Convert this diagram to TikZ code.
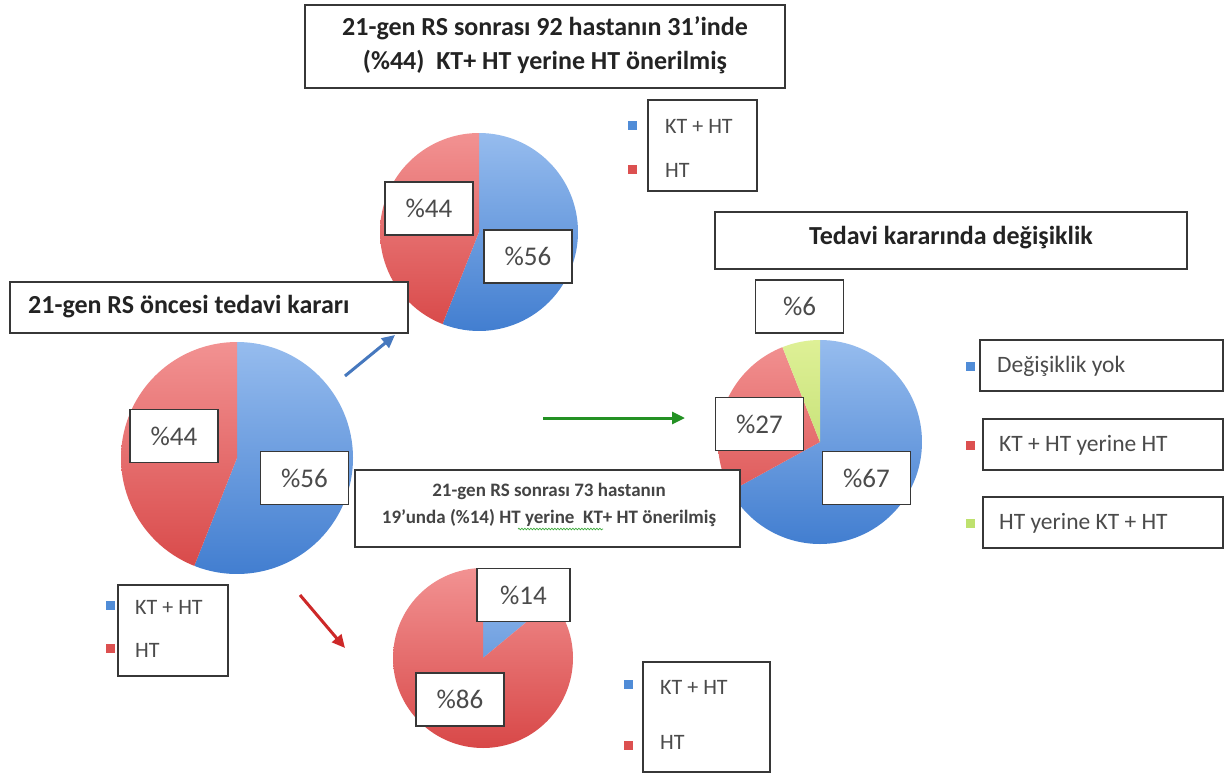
\documentclass[tikz,border=0pt]{standalone}
\usepackage{fontspec}
\setmainfont{Carlito}
\usetikzlibrary{arrows.meta,calc,decorations.pathmorphing}
\definecolor{bluelt}{RGB}{150,188,238}
\definecolor{bluedk}{RGB}{66,126,208}
\definecolor{redlt}{RGB}{242,146,146}
\definecolor{reddk}{RGB}{216,72,72}
\definecolor{greenlt}{RGB}{222,240,150}
\definecolor{greendk}{RGB}{180,214,96}
\definecolor{mkblue}{RGB}{80,140,215}
\definecolor{mkred}{RGB}{220,80,80}
\definecolor{mkgreen}{RGB}{190,225,110}
\definecolor{boxline}{RGB}{55,55,55}
\definecolor{txt}{RGB}{35,35,35}
\definecolor{lbl}{RGB}{75,75,75}
\definecolor{arrblue}{RGB}{70,120,190}
\definecolor{arrred}{RGB}{205,40,40}
\definecolor{arrgreen}{RGB}{35,145,35}
\definecolor{squig}{RGB}{60,170,60}
\newcommand\pieslice[6]{%
  \begin{scope}
    \clip (#1) -- ($(#1)+(#3:#2)$) arc[start angle=#3,end angle=#4,radius=#2] -- cycle;
    \shade[top color=#5,bottom color=#6] ($(#1)+(-#2,-#2)$) rectangle ($(#1)+(#2,#2)$);
  \end{scope}}
\tikzset{
  box/.style={draw=boxline, line width=1.5pt, fill=white, inner sep=0pt},
  pct/.style={box, minimum width=88pt, minimum height=53pt,
    font=\fontsize{27}{30}\selectfont, text=lbl},
  title/.style={font=\bfseries\fontsize{26}{34}\selectfont, text=txt, inner sep=0pt},
  legtext/.style={font=\fontsize{22}{26}\selectfont, text=lbl, anchor=west, inner sep=0pt},
  legtextR/.style={legtext, font=\fontsize{23.5}{27}\selectfont},
  arr/.style={line width=3pt, -{Triangle[length=13pt,width=12pt]}},
}
\newcommand\mk[3]{\fill[#1] ($(#2,#3)+(-4.5,-4.5)$) rectangle ($(#2,#3)+(4.5,4.5)$);}
\begin{document}
\begin{tikzpicture}[x=1pt,y=-1pt]
\useasboundingbox (0,0) rectangle (1227,774);
\fill[white] (0,0) rectangle (1227,774);

% ---- pies ----
\coordinate (cTop) at (479,232);
\pieslice{cTop}{99pt}{90}{-111.6}{bluelt}{bluedk}
\pieslice{cTop}{99pt}{-111.6}{-270}{redlt}{reddk}

\coordinate (cLeft) at (237,458);
\pieslice{cLeft}{116pt}{90}{-111.6}{bluelt}{bluedk}
\pieslice{cLeft}{116pt}{-111.6}{-270}{redlt}{reddk}

\coordinate (cBot) at (483,658);
\pieslice{cBot}{90pt}{90}{39.6}{bluelt}{bluedk}
\pieslice{cBot}{90pt}{39.6}{-270}{redlt}{reddk}

\coordinate (cRight) at (820,442);
\pieslice{cRight}{102pt}{90}{-151.2}{bluelt}{bluedk}
\pieslice{cRight}{102pt}{-151.2}{-248.4}{redlt}{reddk}
\pieslice{cRight}{102pt}{-248.4}{-270}{greenlt}{greendk}

% ---- titles ----
\node[box, minimum width=480pt, minimum height=83pt] (topTitle) at (545,46.5) {};
\node[title, align=center] at (545,45) {21-gen RS sonrası 92 hastanın 31’inde\\(\%44)\ \ KT+ HT yerine HT önerilmiş};

\node[box, minimum width=398pt, minimum height=51pt] (leftTitle) at (209,307.5) {};
\node[title, anchor=west] at (28,307) {21-gen RS öncesi tedavi kararı};

\node[box, minimum width=472pt, minimum height=57pt] (tedavi) at (951,240.5) {};
\node[title] at (951,238) {Tedavi kararında değişiklik};

\node[box, minimum width=385pt, minimum height=77pt] (midBox) at (547.5,508.5) {};
\node[inner sep=0pt, align=center, font=\bfseries\fontsize{19}{27}\selectfont, text=txt!85] (midText) at (549,505)
  {21-gen RS sonrası 73 hastanın\\19’unda (\%14) HT yerine\ \ KT+ HT önerilmiş};
\draw[squig, line width=0.7pt, decorate, decoration={snake, amplitude=0.8pt, segment length=3pt}] (518,529) -- (603,529);

% ---- percentage labels ----
\node[pct] (t44) at (429,208.5) {\%44};
\node[pct] (t56) at (528,256.5) {\%56};
\node[pct] (l44) at (174,436) {\%44};
\node[pct] (l56) at (304.5,478) {\%56};
\node[pct, minimum width=93pt] (b14) at (523.5,595) {\%14};
\node[pct] (b86) at (460,699.5) {\%86};
\node[pct] (r6) at (799.5,306.5) {\%6};
\node[pct] (r27) at (759.5,424) {\%27};
\node[pct] (r67) at (866.5,478) {\%67};

% ---- legends ----
\node[box, minimum width=109pt, minimum height=91pt] (legTop) at (702.5,145.5) {};
\mk{mkblue}{632}{125}\mk{mkred}{632}{169}
\node[legtext] at (665,126) {KT + HT};
\node[legtext] at (665,170) {HT};

\node[box, minimum width=110pt, minimum height=91pt] (legLeft) at (173,630.5) {};
\mk{mkblue}{110}{605}\mk{mkred}{110}{648}
\node[legtext] at (135,607) {KT + HT};
\node[legtext] at (135,650) {HT};

\node[box, minimum width=127pt, minimum height=110pt] (legBot) at (706.5,717) {};
\mk{mkblue}{628}{684}\mk{mkred}{628}{745}
\node[legtext] at (660,687) {KT + HT};
\node[legtext] at (660,742) {HT};

\node[box, minimum width=243pt, minimum height=51pt] (legR1) at (1101.5,365.5) {};
\node[box, minimum width=240pt, minimum height=51pt] (legR2) at (1103,444.5) {};
\node[box, minimum width=240pt, minimum height=51pt] (legR3) at (1103,522.5) {};
\mk{mkblue}{970}{366}\mk{mkred}{970}{445}\mk{mkgreen}{970}{523}
\node[legtextR] at (997,366) {Değişiklik yok};
\node[legtextR] at (999,445) {KT + HT yerine HT};
\node[legtextR] at (999,523) {HT yerine KT + HT};

% ---- arrows ----
\coordinate (aB1) at (345,376); \coordinate (aB2) at (395,335);
\coordinate (aR1) at (300,595); \coordinate (aR2) at (345,648);
\coordinate (aG1) at (543,418); \coordinate (aG2) at (685,418);
\draw[arr, arrblue] (aB1) -- (aB2);
\draw[arr, arrred] (aR1) -- (aR2);
\draw[arr, arrgreen] (aG1) -- (aG2);
\end{tikzpicture}
\end{document}
